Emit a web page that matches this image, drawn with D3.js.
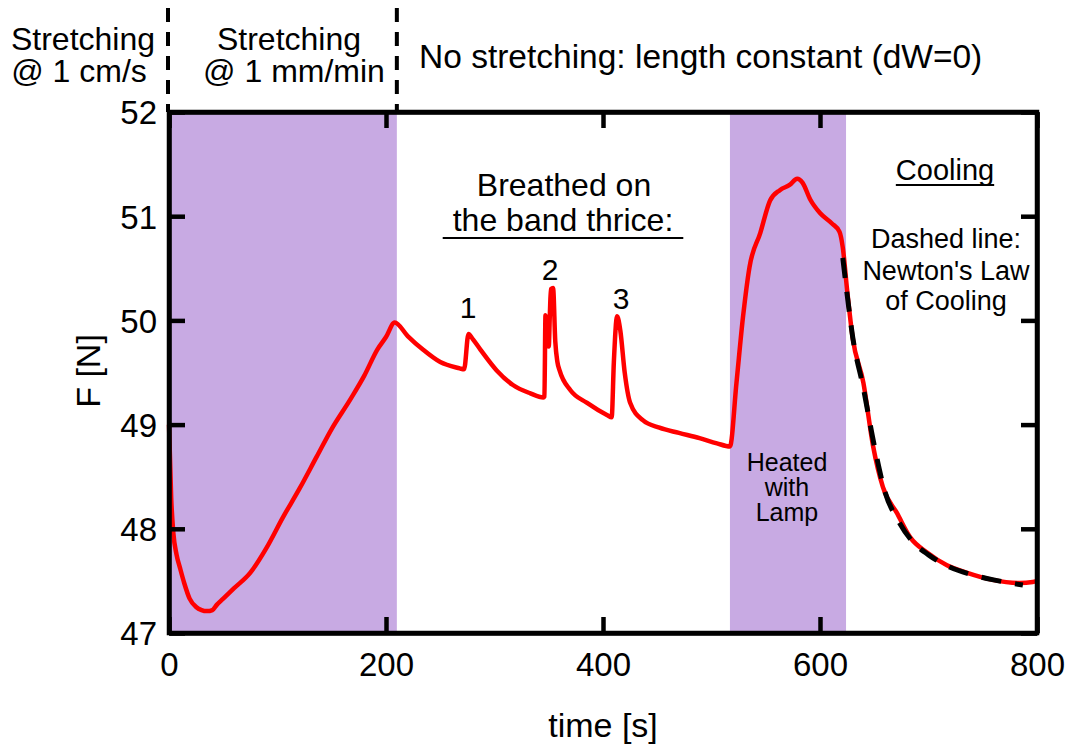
<!DOCTYPE html>
<html><head><meta charset="utf-8">
<script src="https://cdn.jsdelivr.net/npm/d3@7"></script>
<style>body{margin:0;background:#fff}svg{display:block}text{font-family:"Liberation Sans",Arial,sans-serif;fill:#000}</style>
</head><body>
<script>
// time [s] and force F [N]
const tData = [0,2,4,7,10,14,19,25,30,35,40,44,50,60,75,90,105,120,136,150,167,180,192,200,208,
  220,234,250,268,272,276,280,287,302,317,333,345,346,347,349,350,351,352,354,356,358,360,370,385,404,408,410,413,416,420,425,437,452,470,489,505,517,
  523,529,535,545,554,563,572,579,584,591,600,611,618,621,625,630,640,649,658,671,683,699,717,735,759,784,796,800];
const fData = [49.0,48.3,47.96,47.75,47.63,47.48,47.33,47.25,47.22,47.21,47.22,47.27,47.33,47.43,47.58,47.82,48.11,48.38,48.69,48.96,49.24,49.47,49.72,49.84,49.98,
  49.85,49.72,49.6,49.54,49.53,49.87,49.82,49.72,49.52,49.38,49.3,49.26,49.27,50.05,49.8,49.75,50.05,50.3,50.31,49.8,49.6,49.52,49.33,49.21,49.09,49.07,49.6,50.04,49.9,49.5,49.21,49.04,48.97,48.92,48.87,48.82,48.79,
  49.4,50.03,50.51,50.84,51.15,51.25,51.3,51.36,51.32,51.16,51.03,50.93,50.85,50.7,50.29,49.84,49.4,48.79,48.4,48.15,47.92,47.77,47.65,47.58,47.51,47.48,47.49,47.5];
// Newton's law of cooling dashed curve
const tFit = [621,625,630,640,650,660,672,685,700,720,740,760,787];
const fFit = [50.6,50.25,49.85,49.35,48.8,48.35,48.08,47.88,47.75,47.63,47.56,47.51,47.46];
// shaded intervals [start, end] in s
const bandStart = [0, 517];
const bandEnd = [210, 624];
const xTicks = [0,200,400,600,800];
const yTicks = [47,48,49,50,51,52];
const phaseLines = [0, 210];

const W=1068,H=748;
const svg=d3.select("body").append("svg").attr("width",W).attr("height",H);
const x=d3.scaleLinear().domain([0,800]).range([169,1037]);
const y=d3.scaleLinear().domain([47,52]).range([633,112]);
const purple="#c8aae3";

// bands
svg.selectAll("rect.band").data(bandStart).enter().append("rect")
  .attr("x",(d)=>x(d)).attr("y",y(52)).attr("width",(d,i)=>x(bandEnd[i])-x(d)).attr("height",y(47)-y(52))
  .attr("fill",purple);

// dashed phase separators
svg.selectAll("line.phase").data(phaseLines).enter().append("line")
  .attr("x1",d=>x(d)+(d===0?-1:0)).attr("x2",d=>x(d)+(d===0?-1:0)).attr("y1",8).attr("y2",y(52))
  .attr("stroke","#000").attr("stroke-width",4).attr("stroke-dasharray","14,10");

// data line
const pts=tData.map((t,i)=>[t,fData[i]]);
const line=d3.line().curve(d3.curveMonotoneX).x(d=>x(d[0])).y(d=>y(d[1]));
svg.append("path").attr("d",line(pts)).attr("fill","none").attr("stroke","#ff0000").attr("stroke-width",4.5).attr("stroke-linejoin","round");
const fit=tFit.map((t,i)=>[t,fFit[i]]);
svg.append("path").attr("d",d3.line().curve(d3.curveMonotoneX).x(d=>x(d[0])).y(d=>y(d[1]))(fit))
  .attr("fill","none").attr("stroke","#000").attr("stroke-width",5).attr("stroke-dasharray","20,14");

// axes (inward ticks, mirrored)
const tl=16, fs=33;
const ax=svg.append("g").attr("transform",`translate(0,${y(47)})`).call(d3.axisBottom(x).tickValues(xTicks).tickSizeInner(-tl).tickSizeOuter(0).tickFormat(d3.format("d")));
const axT=svg.append("g").attr("transform",`translate(0,${y(52)})`).call(d3.axisTop(x).tickValues(xTicks).tickSizeInner(-tl).tickSizeOuter(0).tickFormat(""));
const ay=svg.append("g").attr("transform",`translate(${x(0)},0)`).call(d3.axisLeft(y).tickValues(yTicks).tickSizeInner(-tl).tickSizeOuter(0).tickPadding(12).tickFormat(d3.format("d")));
const ayR=svg.append("g").attr("transform",`translate(${x(800)},0)`).call(d3.axisRight(y).tickValues(yTicks).tickSizeInner(-tl).tickSizeOuter(0).tickFormat(""));
[ax,axT,ay,ayR].forEach(g=>{
  g.selectAll(".domain").attr("stroke","#000").attr("stroke-width",4.5);
  g.selectAll(".tick line").attr("stroke","#000").attr("stroke-width",4.5);
  g.selectAll(".tick text").attr("font-size",fs).attr("font-family","Liberation Sans, Arial, sans-serif").attr("fill","#000");
});
ax.selectAll(".tick text").attr("y",43).attr("dy",0);
ay.selectAll(".tick text").attr("dy","0.36em");
svg.append("rect").attr("x",x(0)).attr("y",y(52)).attr("width",x(800)-x(0)).attr("height",y(47)-y(52))
  .attr("fill","none").attr("stroke","#000").attr("stroke-width",4.5);

// axis titles
svg.append("text").attr("x",603).attr("y",737).attr("text-anchor","middle").attr("font-size",34).text("time [s]");
svg.append("text").attr("transform","translate(100,371) rotate(-90)").attr("text-anchor","middle").attr("font-size",34).text("F [N]");

function txt(xp,yp,s,size,under,ext){
  const t=svg.append("text").attr("x",xp).attr("y",yp).attr("text-anchor","middle").attr("font-size",size).text(s);
  if(under){const b=t.node().getBBox();const e=ext||0;svg.append("line").attr("x1",b.x-e).attr("x2",b.x+b.width+e).attr("y1",yp+under).attr("y2",yp+under).attr("stroke","#000").attr("stroke-width",2);}
}
// header texts
txt(83,50,"Stretching",32);txt(79,82,"@ 1 cm/s",32);
txt(289,50,"Stretching",32);txt(294,82,"@ 1 mm/min",32);
svg.append("text").attr("x",419).attr("y",68).attr("font-size",33.5).text("No stretching: length constant (dW=0)");
// annotations
txt(564,196,"Breathed on",32);txt(563,231,"the band thrice:",32,7,10);
txt(468,318,"1",30);txt(550,280,"2",30);txt(621,309,"3",30);
txt(787,471,"Heated",25);txt(787,496,"with",25);txt(787,521,"Lamp",25);
txt(945,180,"Cooling",29,5);
txt(946,248,"Dashed line:",27);txt(946,280,"Newton's Law",27);txt(946,310,"of Cooling",27);
</script>
</body></html>
